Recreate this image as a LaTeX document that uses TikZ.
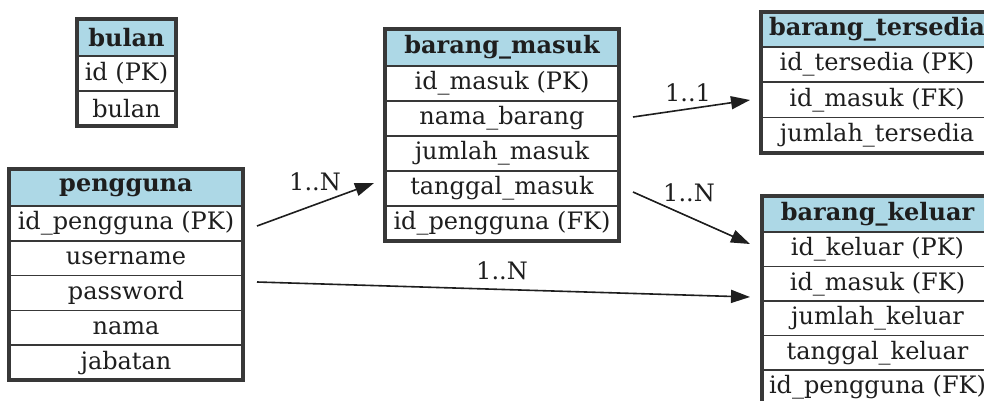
\documentclass[tikz,border=0pt]{standalone}
\usepackage{fontspec}
\setmainfont{DejaVu Serif}
\usetikzlibrary{arrows.meta}
\definecolor{hdrblue}{HTML}{ADD8E6}
\definecolor{bd}{HTML}{383838}
\definecolor{ink}{HTML}{1E1E1E}
\tikzset{
  base/.style={draw=bd, line width=1.7pt, inner sep=0pt, outer sep=0pt, anchor=north west, text=ink, font=\fontsize{24}{28}\selectfont},
  hdr/.style={base, fill=hdrblue, font=\fontsize{24}{28}\selectfont\bfseries},
  cell/.style={base, fill=white},
  frame/.style={draw=bd, line width=3.2pt},
  edge/.style={draw=ink, line width=1.6pt, -{Triangle[length=19pt,width=13pt]}},
  lbl/.style={text=ink, font=\fontsize{24}{28}\selectfont, inner sep=0pt}
}
\begin{document}
\begin{tikzpicture}[x=1pt,y=-1pt]
\useasboundingbox (0,0) rectangle (984,401);
\clip (0,0) rectangle (984,401);
\fill[white] (0,0) rectangle (984,401);

% bulan
\node[hdr, minimum width=99pt, minimum height=37pt] (bulanH) at (77,19) {bulan};
\node[cell, minimum width=99pt, minimum height=35pt] (bulan1) at (bulanH.south west) {id (PK)};
\node[cell, minimum width=99pt, minimum height=35pt] (bulan2) at (bulan1.south west) {bulan};
\draw[frame] (bulanH.north west) rectangle (bulan2.south east);

% pengguna
\node[hdr, minimum width=234pt, minimum height=37pt] (pengH) at (9,169) {pengguna};
\node[cell, minimum width=234pt, minimum height=34.8pt] (peng1) at (pengH.south west) {id\_pengguna (PK)};
\node[cell, minimum width=234pt, minimum height=34.8pt] (peng2) at (peng1.south west) {username};
\node[cell, minimum width=234pt, minimum height=34.8pt] (peng3) at (peng2.south west) {password};
\node[cell, minimum width=234pt, minimum height=34.8pt] (peng4) at (peng3.south west) {nama};
\node[cell, minimum width=234pt, minimum height=34.8pt] (peng5) at (peng4.south west) {jabatan};
\draw[frame] (pengH.north west) rectangle (peng5.south east);

% barang_masuk
\node[hdr, minimum width=234pt, minimum height=37pt] (bmH) at (385,29) {barang\_masuk};
\node[cell, minimum width=234pt, minimum height=35pt] (bm1) at (bmH.south west) {id\_masuk (PK)};
\node[cell, minimum width=234pt, minimum height=35pt] (bm2) at (bm1.south west) {nama\_barang};
\node[cell, minimum width=234pt, minimum height=35pt] (bm3) at (bm2.south west) {jumlah\_masuk};
\node[cell, minimum width=234pt, minimum height=35pt] (bm4) at (bm3.south west) {tanggal\_masuk};
\node[cell, minimum width=234pt, minimum height=35pt] (bm5) at (bm4.south west) {id\_pengguna (FK)};
\draw[frame] (bmH.north west) rectangle (bm5.south east);

% barang_tersedia
\node[hdr, minimum width=232pt, minimum height=35pt] (btH) at (761,12) {barang\_tersedia};
\node[cell, minimum width=232pt, minimum height=35.3pt] (bt1) at (btH.south west) {id\_tersedia (PK)};
\node[cell, minimum width=232pt, minimum height=35.3pt] (bt2) at (bt1.south west) {id\_masuk (FK)};
\node[cell, minimum width=232pt, minimum height=35.3pt] (bt3) at (bt2.south west) {jumlah\_tersedia};
\draw[frame] (btH.north west) rectangle (bt3.south east);

% barang_keluar
\node[hdr, minimum width=231pt, minimum height=36pt] (bkH) at (762,196) {barang\_keluar};
\node[cell, minimum width=231pt, minimum height=34.5pt] (bk1) at (bkH.south west) {id\_keluar (PK)};
\node[cell, minimum width=231pt, minimum height=34.5pt] (bk2) at (bk1.south west) {id\_masuk (FK)};
\node[cell, minimum width=231pt, minimum height=34.5pt] (bk3) at (bk2.south west) {jumlah\_keluar};
\node[cell, minimum width=231pt, minimum height=34.5pt] (bk4) at (bk3.south west) {tanggal\_keluar};
\node[cell, minimum width=231pt, minimum height=34.5pt] (bk5) at (bk4.south west) {id\_pengguna (FK)};
\draw[frame] (bkH.north west) rectangle (bk5.south east);

% connector ends
\coordinate (e1s) at (257,226);
\coordinate (e1t) at (374,183);
\coordinate (e2s) at (257,282);
\coordinate (e2t) at (750,297);
\coordinate (e3s) at (633,117);
\coordinate (e3t) at (750,100);
\coordinate (e4s) at (633,192);
\coordinate (e4t) at (750,244);

\draw[edge] (e1s) -- (e1t);
\draw[edge] (e2s) -- (e2t);
\draw[edge] (e3s) -- (e3t);
\draw[edge] (e4s) -- (e4t);

\node[lbl] (l1) at (315,182) {1..N};
\node[lbl] (l2) at (502,271) {1..N};
\node[lbl] (l3) at (688,93) {1..1};
\node[lbl] (l4) at (689,193) {1..N};
\end{tikzpicture}
\end{document}
